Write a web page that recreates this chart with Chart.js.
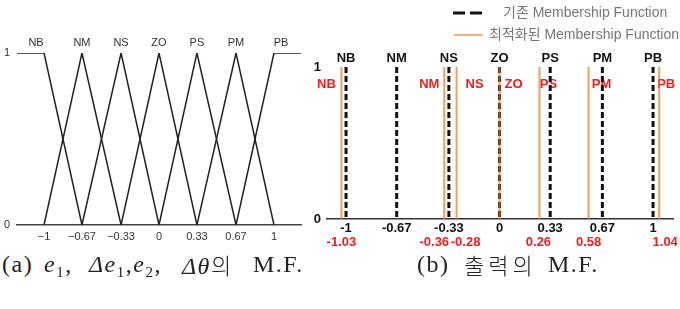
<!DOCTYPE html>
<html>
<head>
<meta charset="utf-8">
<script src="https://cdn.jsdelivr.net/npm/chart.js@4.4.1/dist/chart.umd.min.js"></script>
<style>
  html, body { margin: 0; padding: 0; background: #fff; }
  body { width: 680px; height: 309px; overflow: hidden; position: relative; }
  #chart-a { position: absolute; left: 0; top: 0; }
  #chart-b { position: absolute; left: 300px; top: 0; }
  .cap { position: absolute; top: 250px; font-family: 'Liberation Serif', serif; font-size: 24px; color: #222; white-space: nowrap; line-height: 28px; letter-spacing: 1.5px; }
  .cap i { font-style: italic; }
  .cap sub { font-size: 15px; vertical-align: -5px; line-height: 0; }
  .cap .ko { font-family: 'Noto Sans CJK KR', sans-serif; font-size: 22px; font-weight: 300; letter-spacing: 2px; }
</style>
</head>
<body>
<canvas id="chart-a" width="310" height="250"></canvas>
<canvas id="chart-b" width="380" height="250"></canvas>
<span class="cap" style="left:2px">(a)</span>
<span class="cap" style="left:44px"><i>e</i><sub>1</sub>,</span>
<span class="cap" style="left:89px;letter-spacing:1.5px"><i>Δe</i><sub>1</sub>,<i>e</i><sub>2</sub>,</span>
<span class="cap" style="left:182px"><i>Δθ</i><span class="ko">의</span></span>
<span class="cap" style="left:253px">M.F.</span>
<span class="cap" style="left:417px">(b)</span>
<span class="cap" style="left:464px"><span class="ko" style="letter-spacing:4px">출력의</span></span>
<span class="cap" style="left:548px">M.F.</span>
<script>
// ── DATA ──
const mfNames          = ['NB', 'NM', 'NS', 'ZO', 'PS', 'PM', 'PB'];
const inputCenters     = [-1, -0.67, -0.33, 0, 0.33, 0.67, 1];
const inputTickLabels  = ['\u22121', '\u22120.67', '\u22120.33', '0', '0.33', '0.67', '1'];
const outputBase       = [-1, -0.67, -0.33, 0, 0.33, 0.67, 1];
const outputTickLabels = ['-1', '-0.67', '-0.33', '0', '0.33', '0.67', '1'];
const outputOptimized  = [-1.03, -0.36, -0.28, 0, 0.26, 0.58, 1.04];
const optimizedLabels  = ['-1.03', '-0.36', '-0.28', '', '0.26', '0.58', '1.04'];
const legendLabels     = ['기존 Membership Function', '최적화된 Membership Function'];

// ── LAYOUT / STYLE ──
const RANGE_A = [-1.235, 1.235];
const RANGE_B = [-1.124, 1.13];
const NAME_SHIFT_A  = [-8, 0, 0, 0, 0, 0, 7];
const NAME_SHIFT_B  = [-15, -15, 18, 14, 9, 13, 7];
const VALUE_SHIFT_B = [0, -10, 9, 0, -1, 0, 6];
const ORANGE = 'rgba(238,120,30,0.72)';
const RED    = '#f21c1c';
const SANS   = "'Liberation Sans', 'Noto Sans CJK KR', sans-serif";

Chart.defaults.font.family = SANS;
Chart.defaults.animation = false;

// triangle (shoulder at the ends) for each input membership function
function triangle(i) {
  const pts = [];
  pts.push(i === 0 ? { x: RANGE_A[0], y: 1 } : { x: inputCenters[i - 1], y: 0 });
  pts.push({ x: inputCenters[i], y: 1 });
  pts.push(i === inputCenters.length - 1 ? { x: RANGE_A[1], y: 1 } : { x: inputCenters[i + 1], y: 0 });
  return pts;
}

// ── (a) INPUT M.F. ──
const namesA = {
  id: 'namesA',
  afterDraw(chart) {
    const { ctx } = chart;
    const x = chart.scales.x;
    ctx.save();
    ctx.font = '11px ' + SANS;
    ctx.fillStyle = '#333';
    ctx.textAlign = 'center';
    ctx.textBaseline = 'middle';
    mfNames.forEach((n, i) => ctx.fillText(n, x.getPixelForValue(inputCenters[i]) + NAME_SHIFT_A[i], 43));
    ctx.restore();
  }
};

new Chart(document.getElementById('chart-a'), {
  type: 'scatter',
  data: {
    datasets: mfNames.map((n, i) => ({
      label: n,
      data: triangle(i),
      showLine: true,
      borderColor: '#222',
      borderWidth: 1.5,
      pointRadius: 0,
    }))
  },
  options: {
    responsive: false,
    layout: { padding: { top: 53, right: 9, left: 0, bottom: 0 } },
    plugins: { legend: { display: false }, tooltip: { enabled: false } },
    scales: {
      x: {
        type: 'linear', min: RANGE_A[0], max: RANGE_A[1],
        afterBuildTicks: s => { s.ticks = inputCenters.map(v => ({ value: v })); },
        afterFit: s => { s.height = 25; },
        grid: { display: false, drawTicks: false },
        border: { display: true, color: '#444', width: 1.5 },
        ticks: { callback: (v, i) => inputTickLabels[i], autoSkip: false, maxRotation: 0, padding: 5, color: '#333', font: { size: 11 } },
      },
      y: {
        min: 0, max: 1,
        afterFit: s => { s.width = 17; },
        grid: { display: false, drawTicks: false },
        border: { display: false },
        ticks: { stepSize: 1, padding: 7, color: '#333', font: { size: 11 } },
      }
    }
  },
  plugins: [namesA]
});

// ── (b) OUTPUT M.F. ──
const labelsB = {
  id: 'labelsB',
  beforeDatasetsDraw(chart) {
    const { ctx } = chart;
    const x = chart.scales.x;
    ctx.save();
    ctx.font = 'bold 13px ' + SANS;
    ctx.fillStyle = RED;
    ctx.textAlign = 'center';
    ctx.textBaseline = 'middle';
    mfNames.forEach((n, i) => ctx.fillText(n, x.getPixelForValue(outputOptimized[i]) + NAME_SHIFT_B[i], 84));
    ctx.restore();
  },
  afterDraw(chart) {
    const { ctx } = chart;
    const x = chart.scales.x;
    ctx.save();
    ctx.textAlign = 'center';
    ctx.textBaseline = 'middle';
    ctx.font = 'bold 13px ' + SANS;
    ctx.fillStyle = '#111';
    mfNames.forEach((n, i) => ctx.fillText(n, x.getPixelForValue(outputBase[i]), 58));
    ctx.fillStyle = RED;
    optimizedLabels.forEach((t, i) => {
      if (t) ctx.fillText(t, x.getPixelForValue(outputOptimized[i]) + VALUE_SHIFT_B[i], 242);
    });

    // legend
    ctx.lineWidth = 3;
    ctx.strokeStyle = '#111';
    ctx.setLineDash([12, 5]);
    ctx.beginPath(); ctx.moveTo(153, 13); ctx.lineTo(182, 13); ctx.stroke();
    ctx.setLineDash([]);
    ctx.lineWidth = 1.6;
    ctx.strokeStyle = ORANGE;
    ctx.beginPath(); ctx.moveTo(154, 35); ctx.lineTo(183, 35); ctx.stroke();
    ctx.font = '14px ' + SANS;
    ctx.fillStyle = '#777';
    ctx.textAlign = 'left';
    ctx.fillText(legendLabels[0], 203, 13);
    ctx.fillText(legendLabels[1], 189, 35);
    ctx.restore();
  }
};

const vline = v => [{ x: v, y: 1 }, { x: v, y: 0 }];

new Chart(document.getElementById('chart-b'), {
  type: 'scatter',
  data: {
    datasets: [
      ...outputBase.map((v, i) => ({
        label: 'base ' + mfNames[i],
        data: vline(v),
        showLine: true,
        borderColor: '#111',
        borderWidth: 3,
        borderDash: [6, 3],
        pointRadius: 0,
        order: 2,
      })),
      ...outputOptimized.map((v, i) => ({
        label: 'opt ' + mfNames[i],
        data: vline(v),
        showLine: true,
        borderColor: ORANGE,
        borderWidth: 2,
        pointRadius: 0,
        order: 1,
      })),
    ]
  },
  options: {
    responsive: false,
    layout: { padding: { top: 67, right: 7, left: 0, bottom: 0 } },
    plugins: { legend: { display: false }, tooltip: { enabled: false } },
    scales: {
      x: {
        type: 'linear', min: RANGE_B[0], max: RANGE_B[1],
        afterBuildTicks: s => { s.ticks = outputBase.map(v => ({ value: v })); },
        afterFit: s => { s.height = 31; },
        grid: { display: false, drawTicks: false },
        border: { display: true, color: '#333', width: 1.5 },
        ticks: { callback: (v, i) => outputTickLabels[i], autoSkip: false, maxRotation: 0, padding: 2, color: '#111', font: { size: 13, weight: 'bold' } },
      },
      y: {
        min: 0, max: 1,
        afterFit: s => { s.width = 27; },
        grid: { display: false, drawTicks: false },
        border: { display: false },
        ticks: { stepSize: 1, padding: 6, color: '#111', font: { size: 13, weight: 'bold' } },
      }
    }
  },
  plugins: [labelsB]
});
</script>
</body>
</html>
